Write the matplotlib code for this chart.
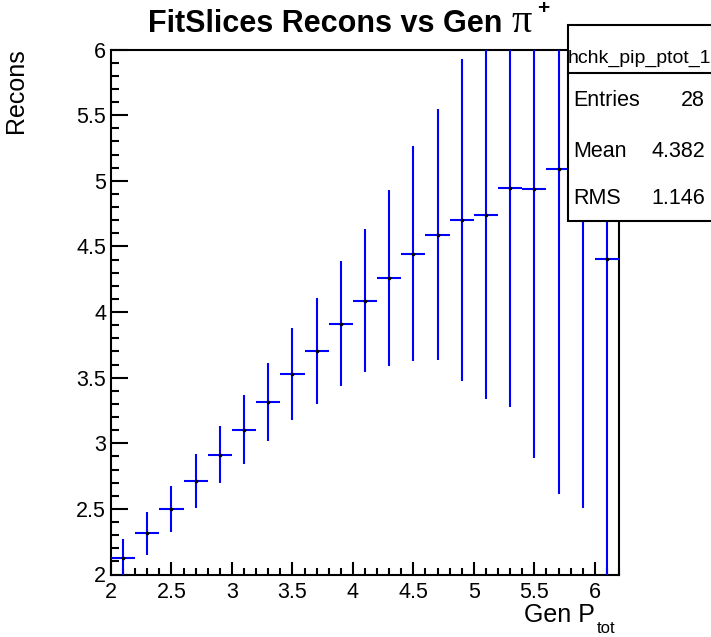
import matplotlib
matplotlib.use('Agg')
import matplotlib.pyplot as plt
from matplotlib.ticker import MultipleLocator, FormatStrFormatter
from matplotlib.patches import Rectangle
from matplotlib.lines import Line2D

# bin centres (Gen P_tot) and fitted slice means with their errors
gen_p = [2.1, 2.3, 2.5, 2.7, 2.9, 3.1, 3.3, 3.5, 3.7, 3.9, 4.1,
         4.3, 4.5, 4.7, 4.9, 5.1, 5.3, 5.5, 5.7, 5.9, 6.1]
recons = [2.127, 2.313, 2.501, 2.712, 2.913, 3.104, 3.313, 3.527, 3.702, 3.910, 4.085,
          4.260, 4.445, 4.590, 4.700, 4.740, 4.946, 4.936, 5.092, 5.200, 4.405]
recons_err = [0.145, 0.163, 0.177, 0.207, 0.219, 0.262, 0.295, 0.352, 0.404, 0.475, 0.545,
              0.668, 0.818, 0.955, 1.225, 1.400, 1.670, 2.050, 2.480, 2.690, 2.900]
bin_half = 0.1

stat_name = 'hchk_pip_ptot_1'
stat_labels = ['Entries', 'Mean', 'RMS']
stat_values = ['28', '4.382', '1.146']

plt.rcParams['font.family'] = ['Liberation Sans', 'DejaVu Sans']

W, H = 711, 637
fig = plt.figure(figsize=(W / 100, H / 100), dpi=100)


def fx(px):
    return px / W


def fy(py):
    return 1 - py / H


ax = fig.add_axes([fx(111), fy(574.5), fx(619 - 111), (574.5 - 49.5) / H])

ax.errorbar(gen_p, recons, xerr=bin_half, yerr=recons_err, fmt='o', ms=1.6,
            mfc='black', mec='black', ecolor='#0000ff', elinewidth=1.5,
            capsize=0, zorder=3)

ax.set_xlim(2, 6.2)
ax.set_ylim(2, 6)
ax.xaxis.set_major_locator(MultipleLocator(0.5))
ax.xaxis.set_minor_locator(MultipleLocator(0.1))
ax.yaxis.set_major_locator(MultipleLocator(0.5))
ax.yaxis.set_minor_locator(MultipleLocator(0.1))
ax.xaxis.set_major_formatter(FormatStrFormatter('%g'))
ax.yaxis.set_major_formatter(FormatStrFormatter('%g'))
ax.tick_params(axis='both', which='both', direction='in', top=False, right=False,
               width=1.5, labelsize=15.5)
ax.tick_params(axis='x', which='major', length=9.5, pad=5.5)
ax.tick_params(axis='x', which='minor', length=4.8)
ax.tick_params(axis='y', which='major', length=12, pad=3.5)
ax.tick_params(axis='y', which='minor', length=6)
for s in ax.spines.values():
    s.set_linewidth(1.5)
    s.set_color('black')

# title: bold text + greek pi + superscript
fig.text(fx(148.3), fy(31.7), 'FitSlices Recons vs Gen', fontsize=22,
         fontweight='bold', ha='left', va='baseline')
fig.text(fx(511), fy(31.7), 'π', fontsize=29, family=['Liberation Serif', 'DejaVu Serif'],
         ha='left', va='baseline')
fig.text(fx(537), fy(14.5), '+', fontsize=15, fontweight='bold', ha='left', va='baseline')

# axis titles
fig.text(fx(595), fy(621.7), 'Gen P', fontsize=18, ha='right', va='baseline')
fig.text(fx(597), fy(632.7), 'tot', fontsize=12, ha='left', va='baseline')
fig.text(fx(16), fy(48), 'Recons', fontsize=18, rotation=90, ha='center', va='top')

# stats box
box = Rectangle((fx(567.7), fy(220.7)), fx(720 - 567.7), (220.7 - 24.7) / H,
                transform=fig.transFigure, facecolor='white', edgecolor='black',
                linewidth=1.5, zorder=10)
fig.add_artist(box)
fig.add_artist(Line2D([fx(567.7), fx(720)], [fy(73.3), fy(73.3)],
                      transform=fig.transFigure, color='black', lw=1.5, zorder=11))
fig.text(fx(568), fy(63.3), stat_name, fontsize=14, ha='left', va='baseline', zorder=12)
for i, (lab, val) in enumerate(zip(stat_labels, stat_values)):
    yb = [106, 156.7, 204][i]
    fig.text(fx(573.5), fy(yb), lab, fontsize=15.5, ha='left', va='baseline', zorder=12)
    fig.text(fx(705), fy(yb), val, fontsize=15.5, ha='right', va='baseline', zorder=12)

fig.savefig('out.png', dpi=100)
